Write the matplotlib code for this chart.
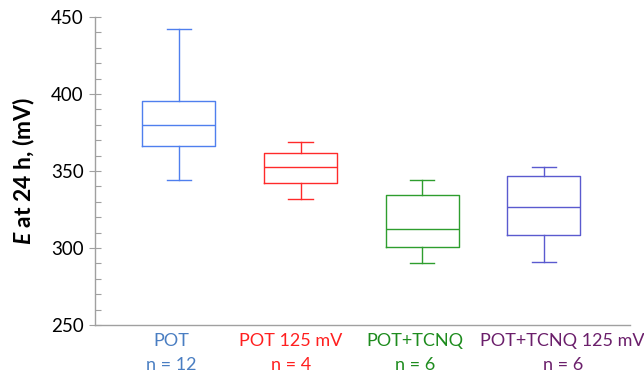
import matplotlib
matplotlib.use("Agg")
import matplotlib.pyplot as plt
from matplotlib.ticker import MultipleLocator

plt.rcParams['font.family'] = ['Lato', 'DejaVu Sans']
plt.rcParams['mathtext.fontset'] = 'custom'
plt.rcParams['mathtext.bfit'] = 'Lato:italic:bold'

# five-number summaries for each group (mV)
groups = ['POT', 'POT 125 mV', 'POT+TCNQ', 'POT+TCNQ 125 mV']
counts = [12, 4, 6, 6]
whisker_low = [344, 332, 290, 291]
q1 = [366.5, 342, 300.6, 308.2]
median = [380.2, 352.6, 312.1, 326.4]
q3 = [395.4, 362, 334.4, 347]
whisker_high = [442, 368.8, 344, 352.4]

box_colors = ['#4F7FEE', '#FF2A2A', '#2E9E2E', '#5A5ACF']
label_colors = ['#4A7EC2', '#FF2020', '#1E8C1E', '#6B1F6B']

stats = []
for i, g in enumerate(groups):
    stats.append(dict(label=g, whislo=whisker_low[i], q1=q1[i], med=median[i],
                      q3=q3[i], whishi=whisker_high[i], fliers=[]))

fig = plt.figure(figsize=(6.44, 3.74), dpi=100)
ax = fig.add_axes([0.1475, 0.131, 0.8305, 0.8235])

positions = list(range(1, len(groups) + 1))
for pos, st, c in zip(positions, stats, box_colors):
    props = dict(color=c, linewidth=1.0)
    ax.bxp([st], positions=[pos], widths=0.6, capwidths=0.2, showfliers=False,
           boxprops=props, whiskerprops=props, capprops=props, medianprops=props)

ax.set_xlim(0.31, 4.707)
ax.set_ylim(250, 450)
ax.yaxis.set_major_locator(MultipleLocator(50))
ax.yaxis.set_minor_locator(MultipleLocator(10))
ax.tick_params(axis='y', which='major', direction='inout', length=8, width=0.8,
               color='#A0A0A0', labelsize=13.5, pad=4)
ax.tick_params(axis='y', which='minor', direction='in', length=4, width=0.8, color='#A0A0A0')
ax.tick_params(axis='x', length=0, pad=6)

# category labels sit a little off the box centres, the last one runs off the right edge
label_x = [0.94, 1.92, 2.94, 4.155]
ax.set_xticks(label_x)
ax.set_xticklabels([f'{g}\nn = {n}' for g, n in zip(groups, counts)],
                   fontsize=13, linespacing=1.6)
for lbl, c in zip(ax.get_xticklabels(), label_colors):
    lbl.set_color(c)
    lbl.set_clip_on(False)

for side in ['top', 'right']:
    ax.spines[side].set_visible(False)
for side in ['left', 'bottom']:
    ax.spines[side].set_color('#A0A0A0')
    ax.spines[side].set_linewidth(1.0)

ax.set_ylabel(r'$\mathbfit{E}$ at 24 h, (mV)', fontsize=16.5, fontweight='bold', labelpad=10)

fig.savefig('out.png', dpi=100)
